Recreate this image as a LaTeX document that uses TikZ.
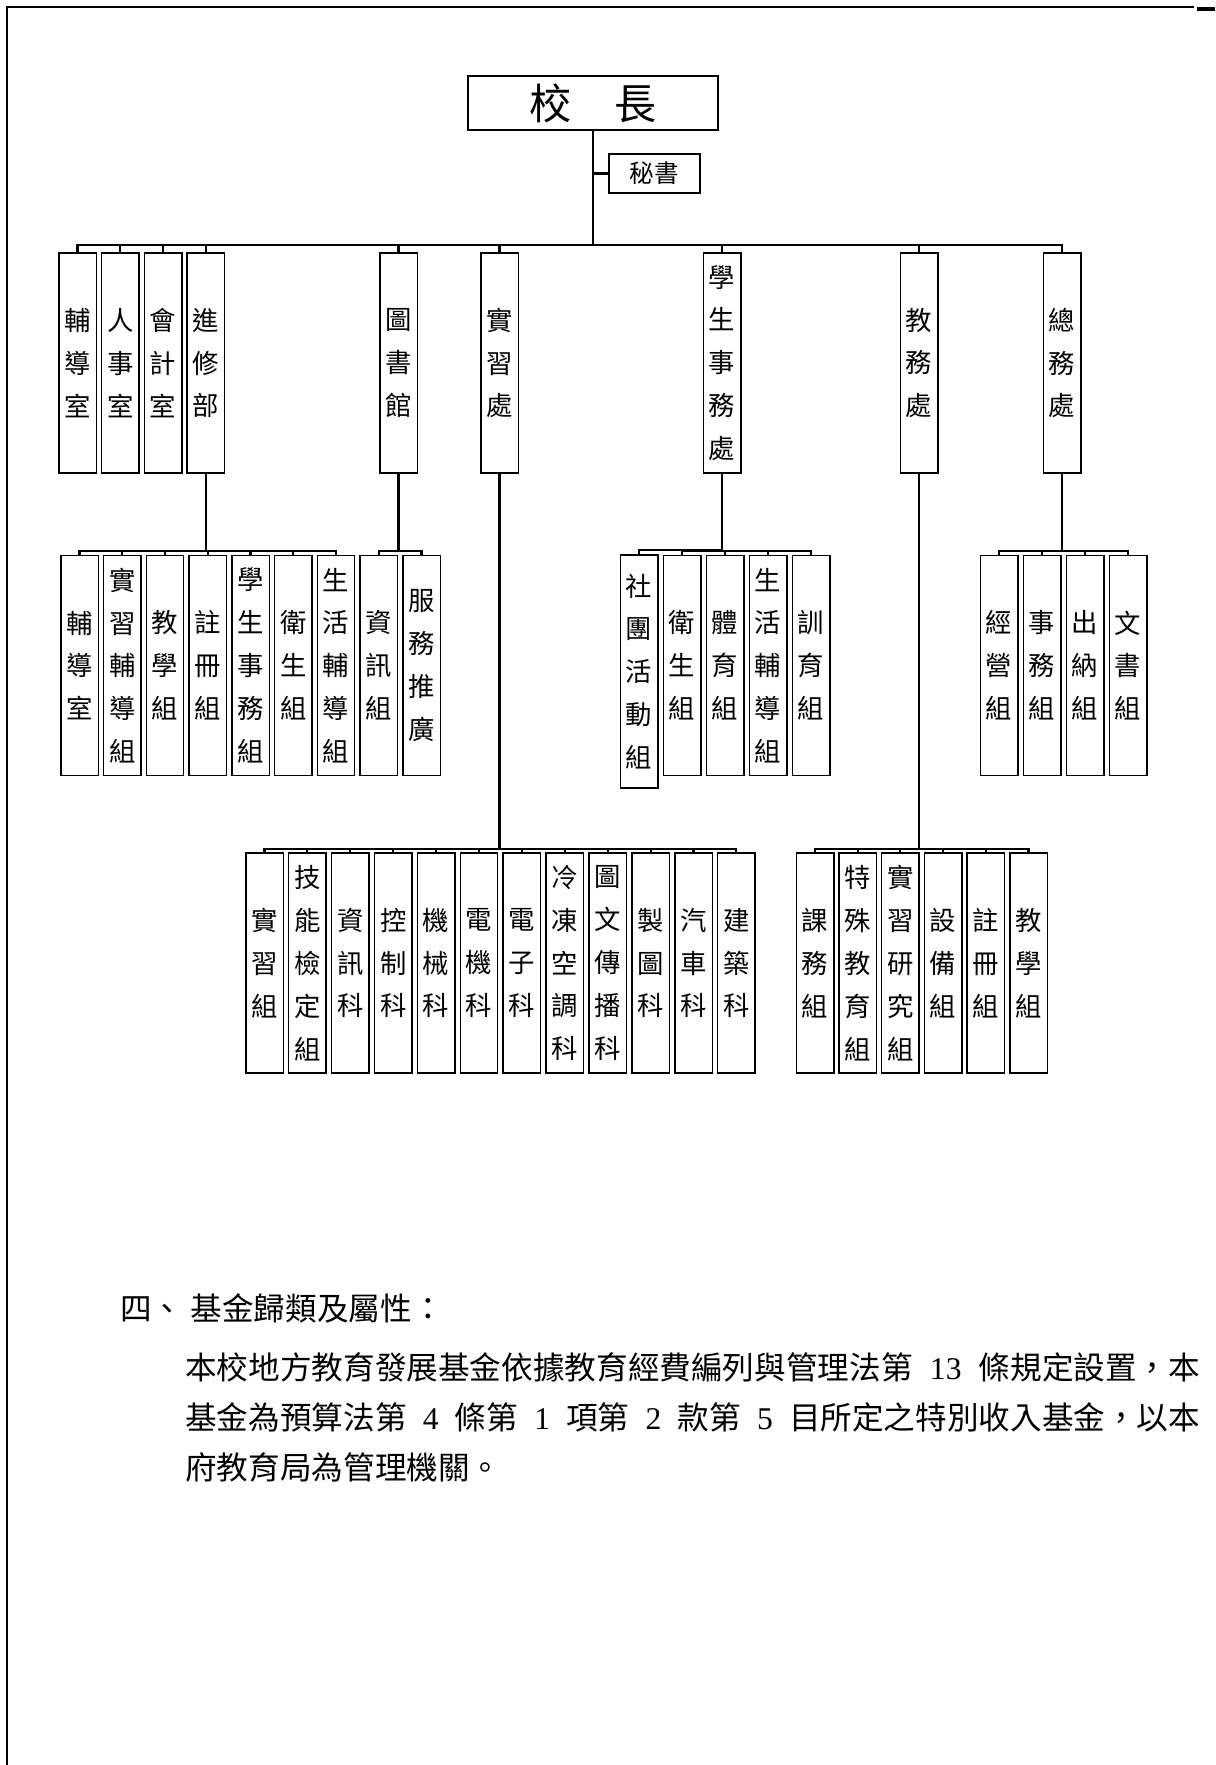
\documentclass[tikz,border=0pt]{standalone}
\usepackage{fontspec}
\setmainfont{Liberation Serif}
\newfontfamily\twfont{Noto Sans CJK TC}
\usepackage{tikz}

\begin{document}
\begin{tikzpicture}[x=0.02cm, y=-0.02cm,
	unit/.style={draw, line width=0.85pt, minimum width=0.75cm, minimum height=4.4cm, inner sep=0pt, align=center, font=\twfont\fontsize{15}{24.4}\selectfont},
	hang/.style={line width=1.2pt, to path={(\tikztostart.north) -- ([yshift=#1]\tikztostart.north) -| (\tikztotarget.south)}},
	hang/.default=4pt,
	side/.style={line width=1.2pt, to path={(\tikztostart.west) -- (\tikztostart.west -| \tikztotarget.south)}},
	body/.style={anchor=west, inner sep=0pt, font=\twfont\fontsize{18}{18}\selectfont}]
\useasboundingbox (0,0) rectangle (1215,1765);
\draw[line width=1.3pt] (7,1765) -- (7,7) -- (1194,7);
\draw[line width=2pt] (1197,9) -- (1215,9);

\node (head) at (593,103) [draw, line width=0.85pt, minimum width=5cm, minimum height=1.08cm, inner sep=0pt, font=\twfont\fontsize{24}{24}\selectfont] {校　長};
	\node (sec) at (654.5,173.5) [draw, line width=0.85pt, minimum width=1.82cm, minimum height=0.78cm, inner sep=0pt, font=\twfont\fontsize{14}{14}\selectfont] {秘書} edge[side] (head);

\node (fd) at (77.5,363) [unit] {輔\\導\\室} edge[hang] (head);
\node (rs) at (77.5+42.8,363) [unit] {人\\事\\室} edge[hang] (head);
\node (kj) at (77.5+42.8*2,363) [unit] {會\\計\\室} edge[hang] (head);
\node (jx) at (77.5+42.8*3,363) [unit] {進\\修\\部} edge[hang] (head);
	\node (jx1) at (79.5,665.5) [unit] {輔\\導\\室} edge[hang=2.3pt] (jx);
	\node (jx2) at (79.5+42.75,665.5) [unit] {實\\習\\輔\\導\\組} edge[hang=2.3pt] (jx);
	\node (jx3) at (79.5+42.75*2,665.5) [unit] {教\\學\\組} edge[hang=2.3pt] (jx);
	\node (jx4) at (79.5+42.75*3,665.5) [unit] {註\\冊\\組} edge[hang=2.3pt] (jx);
	\node (jx5) at (79.5+42.75*4,665.5) [unit] {學\\生\\事\\務\\組} edge[hang=2.3pt] (jx);
	\node (jx6) at (79.5+42.75*5,665.5) [unit] {衛\\生\\組} edge[hang=2.3pt] (jx);
	\node (jx7) at (79.5+42.75*6,665.5) [unit] {生\\活\\輔\\導\\組} edge[hang=2.3pt] (jx);

\node (ts) at (398.5,363) [unit] {圖\\書\\館} edge[hang] (head);
	\node (ts1) at (79.5+42.75*7,665.5) [unit] {資\\訊\\組} edge[hang=2.3pt] (ts);
	\node (ts2) at (79.5+42.75*8,665.5) [unit] {服\\務\\推\\廣} edge[hang=2.3pt] (ts);

\node (sx) at (499.5,363) [unit] {實\\習\\處} edge[hang] (head);
	\node (sx1) at (264.5,963) [unit] {實\\習\\組} edge[hang=1.7pt] (sx);
	\node (sx2) at (264.5+42.9,963) [unit] {技\\能\\檢\\定\\組} edge[hang=1.7pt] (sx);
	\node (sx3) at (264.5+42.9*2,963) [unit] {資\\訊\\科} edge[hang=1.7pt] (sx);
	\node (sx4) at (264.5+42.9*3,963) [unit] {控\\制\\科} edge[hang=1.7pt] (sx);
	\node (sx5) at (264.5+42.9*4,963) [unit] {機\\械\\科} edge[hang=1.7pt] (sx);
	\node (sx6) at (264.5+42.9*5,963) [unit] {電\\機\\科} edge[hang=1.7pt] (sx);
	\node (sx7) at (264.5+42.9*6,963) [unit] {電\\子\\科} edge[hang=1.7pt] (sx);
	\node (sx8) at (264.5+42.9*7,963) [unit] {冷\\凍\\空\\調\\科} edge[hang=1.7pt] (sx);
	\node (sx9) at (264.5+42.9*8,963) [unit] {圖\\文\\傳\\播\\科} edge[hang=1.7pt] (sx);
	\node (sx10) at (264.5+42.9*9,963) [unit] {製\\圖\\科} edge[hang=1.7pt] (sx);
	\node (sx11) at (264.5+42.9*10,963) [unit] {汽\\車\\科} edge[hang=1.7pt] (sx);
	\node (sx12) at (264.5+42.9*11,963) [unit] {建\\築\\科} edge[hang=1.7pt] (sx);

\node (xs) at (722,363) [unit] {學\\生\\事\\務\\處} edge[hang] (head);
	\node (xs1) at (639,671.5) [unit, minimum height=4.66cm] {社\\團\\活\\動\\組} edge[hang=2.3pt] (xs);
	\node (xs2) at (639+43,665.5) [unit] {衛\\生\\組} edge[hang=2.3pt] (xs);
	\node (xs3) at (639+43*2,665.5) [unit] {體\\育\\組} edge[hang=2.3pt] (xs);
	\node (xs4) at (639+43*3,665.5) [unit] {生\\活\\輔\\導\\組} edge[hang=2.3pt] (xs);
	\node (xs5) at (639+43*4,665.5) [unit] {訓\\育\\組} edge[hang=2.3pt] (xs);

\node (jw) at (919,363) [unit] {教\\務\\處} edge[hang] (head);
	\node (jw1) at (815,963) [unit] {課\\務\\組} edge[hang=1.7pt] (jw);
	\node (jw2) at (815+42.7,963) [unit] {特\\殊\\教\\育\\組} edge[hang=1.7pt] (jw);
	\node (jw3) at (815+42.7*2,963) [unit] {實\\習\\研\\究\\組} edge[hang=1.7pt] (jw);
	\node (jw4) at (815+42.7*3,963) [unit] {設\\備\\組} edge[hang=1.7pt] (jw);
	\node (jw5) at (815+42.7*4,963) [unit] {註\\冊\\組} edge[hang=1.7pt] (jw);
	\node (jw6) at (815+42.7*5,963) [unit] {教\\學\\組} edge[hang=1.7pt] (jw);

\node (zw) at (1062,363) [unit] {總\\務\\處} edge[hang] (head);
	\node (zw1) at (999,665.5) [unit] {經\\營\\組} edge[hang=2.3pt] (zw);
	\node (zw2) at (999+43,665.5) [unit] {事\\務\\組} edge[hang=2.3pt] (zw);
	\node (zw3) at (999+43*2,665.5) [unit] {出\\納\\組} edge[hang=2.3pt] (zw);
	\node (zw4) at (999+43*3,665.5) [unit] {文\\書\\組} edge[hang=2.3pt] (zw);

\node (h4) at (120,1308) [body] {四、 基金歸類及屬性：};
	\node (p1) at (185,1367) [body] {\makebox[20.3cm][s]{本校地方教育發展基金依據教育經費編列與管理法第 {\rmfamily 13} 條規定設置，本}};
	\node (p2) at (185,1417) [body] {\makebox[20.3cm][s]{基金為預算法第 {\rmfamily 4} 條第 {\rmfamily 1} 項第 {\rmfamily 2} 款第 {\rmfamily 5} 目所定之特別收入基金，以本}};
	\node (p3) at (185,1467) [body] {府教育局為管理機關。};
\end{tikzpicture}
\end{document}
